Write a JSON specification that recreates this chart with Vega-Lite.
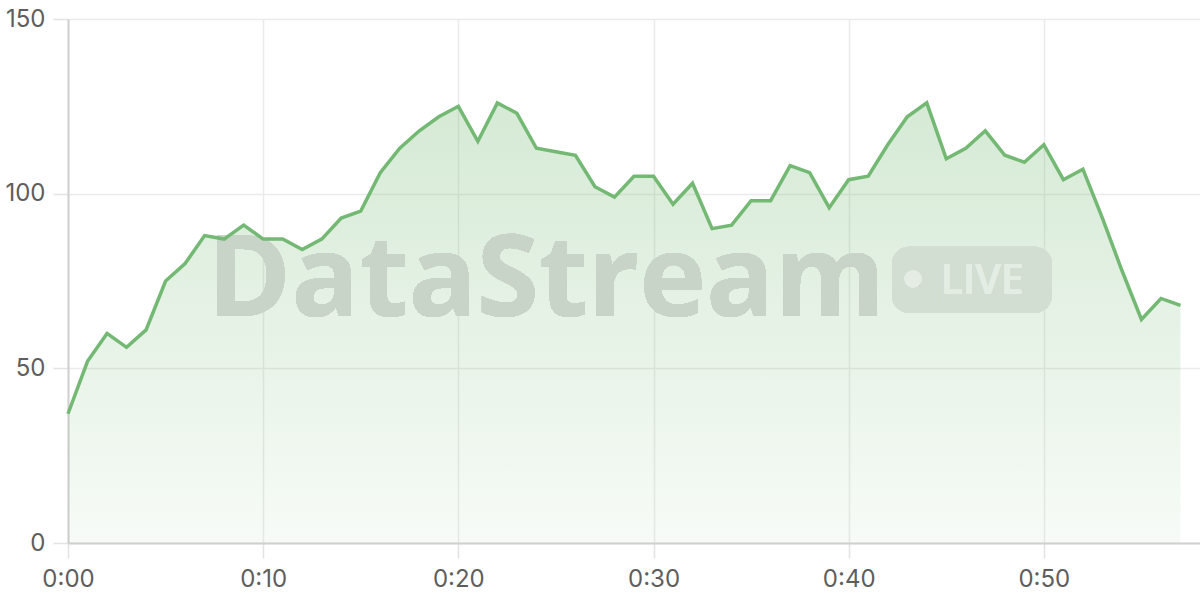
{
  "$schema": "https://vega.github.io/schema/vega-lite/v6.json",
  "autosize": "none",
  "width": 1132,
  "height": 524,
  "padding": {"left": 68, "top": 19, "right": 0, "bottom": 57},
  "background": "white",
  "config": {
    "view": {"stroke": null},
    "font": "Inter",
    "axis": {
      "labelFont": "Inter",
      "labelFontSize": 24,
      "labelColor": "#5e5e5e",
      "gridColor": "#ebebeb",
      "gridWidth": 1.5,
      "tickColor": "#e3e3e3",
      "tickWidth": 1.5,
      "tickSize": 15,
      "domainColor": "#d0d0d0",
      "domainWidth": 2,
      "title": null
    }
  },
  "data": {
    "values": [
      {"minute": 0, "value": 37}, {"minute": 1, "value": 52}, {"minute": 2, "value": 60},
      {"minute": 3, "value": 56}, {"minute": 4, "value": 61}, {"minute": 5, "value": 75},
      {"minute": 6, "value": 80}, {"minute": 7, "value": 88}, {"minute": 8, "value": 87},
      {"minute": 9, "value": 91}, {"minute": 10, "value": 87}, {"minute": 11, "value": 87},
      {"minute": 12, "value": 84}, {"minute": 13, "value": 87}, {"minute": 14, "value": 93},
      {"minute": 15, "value": 95}, {"minute": 16, "value": 106}, {"minute": 17, "value": 113},
      {"minute": 18, "value": 118}, {"minute": 19, "value": 122}, {"minute": 20, "value": 125},
      {"minute": 21, "value": 115}, {"minute": 22, "value": 126}, {"minute": 23, "value": 123},
      {"minute": 24, "value": 113}, {"minute": 25, "value": 112}, {"minute": 26, "value": 111},
      {"minute": 27, "value": 102}, {"minute": 28, "value": 99}, {"minute": 29, "value": 105},
      {"minute": 30, "value": 105}, {"minute": 31, "value": 97}, {"minute": 32, "value": 103},
      {"minute": 33, "value": 90}, {"minute": 34, "value": 91}, {"minute": 35, "value": 98},
      {"minute": 36, "value": 98}, {"minute": 37, "value": 108}, {"minute": 38, "value": 106},
      {"minute": 39, "value": 96}, {"minute": 40, "value": 104}, {"minute": 41, "value": 105},
      {"minute": 42, "value": 114}, {"minute": 43, "value": 122}, {"minute": 44, "value": 126},
      {"minute": 45, "value": 110}, {"minute": 46, "value": 113}, {"minute": 47, "value": 118},
      {"minute": 48, "value": 111}, {"minute": 49, "value": 109}, {"minute": 50, "value": 114},
      {"minute": 51, "value": 104}, {"minute": 52, "value": 107}, {"minute": 53, "value": 93},
      {"minute": 54, "value": 78}, {"minute": 55, "value": 64}, {"minute": 56, "value": 70},
      {"minute": 57, "value": 68}
    ]
  },
  "layer": [
    {
      "mark": {
        "type": "area",
        "color": {
          "gradient": "linear",
          "x1": 0, "y1": 0, "x2": 0, "y2": 1,
          "stops": [
            {"offset": 0, "color": "rgba(116,184,116,0.30)"},
            {"offset": 1, "color": "rgba(116,184,116,0.06)"}
          ]
        }
      },
      "encoding": {
        "x": {
          "field": "minute", "type": "quantitative",
          "scale": {"domain": [0, 58], "nice": false, "zero": false},
          "axis": {
            "values": [0, 10, 20, 30, 40, 50],
            "labelExpr": "'0:' + (datum.value < 10 ? '0' + datum.value : datum.value)",
            "grid": true,
            "labelPadding": 9,
            "labelFlush": false
          }
        },
        "y": {
          "field": "value", "type": "quantitative",
          "scale": {"domain": [0, 150], "nice": false},
          "axis": {"values": [0, 50, 100, 150], "labelPadding": 8, "grid": true}
        }
      }
    },
    {
      "mark": {"type": "text", "text": "DataStream", "font": "Open Sans", "fontSize": 113, "fontWeight": "bold", "letterSpacing": -0.6, "align": "left", "baseline": "alphabetic", "fill": "#c8d4c8"},
      "encoding": {"x": {"datum": 7.15}, "y": {"datum": 65.0}}
    },
    {
      "mark": {"type": "rect", "cornerRadius": 17, "fill": "#d2ded2"},
      "encoding": {"x": {"datum": 42.22}, "x2": {"datum": 50.41}, "y": {"datum": 84.8}, "y2": {"datum": 65.9}}
    },
    {
      "mark": {"type": "point", "filled": true, "shape": "circle", "size": 300, "fill": "#e4ede4", "strokeWidth": 0},
      "encoding": {"x": {"datum": 43.3}, "y": {"datum": 75.6}}
    },
    {
      "mark": {"type": "text", "text": "LIVE", "font": "Open Sans", "fontSize": 41, "fontWeight": 600, "align": "left", "baseline": "alphabetic", "fill": "#e4ede4"},
      "encoding": {"x": {"datum": 44.7}, "y": {"datum": 71.4}}
    },
    {
      "mark": {"type": "line", "color": "#73b873", "strokeWidth": 3.5, "strokeJoin": "miter"},
      "encoding": {
        "x": {"field": "minute", "type": "quantitative"},
        "y": {"field": "value", "type": "quantitative"}
      }
    }
  ]
}
